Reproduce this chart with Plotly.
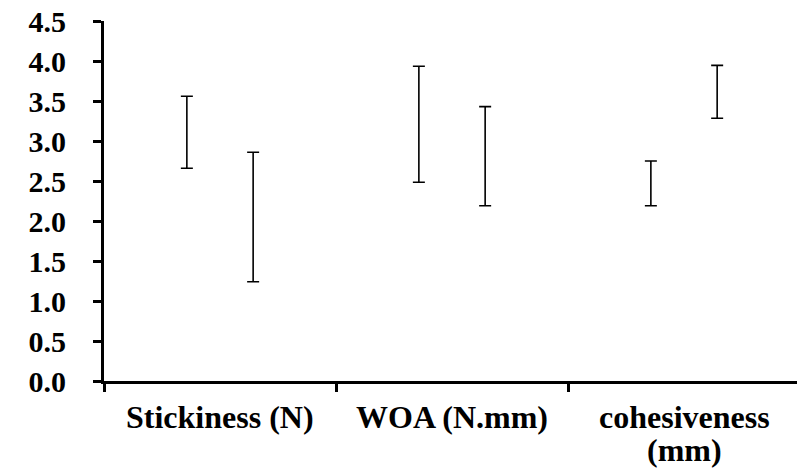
import plotly.graph_objects as go

# Texture parameters, two samples per parameter (mean ± SD)
categories = ["Stickiness (N)", "WOA (N.mm)", "cohesiveness<br>(mm)"]
sample_a_mean = [3.11, 3.21, 2.47]
sample_a_sd = [0.45, 0.725, 0.28]
sample_b_mean = [2.05, 2.81, 3.615]
sample_b_sd = [0.81, 0.62, 0.33]
y_ticks = [0.0, 0.5, 1.0, 1.5, 2.0, 2.5, 3.0, 3.5, 4.0, 4.5]

font_family = "Liberation Serif"

fig = go.Figure()
for means, sds in [(sample_a_mean, sample_a_sd), (sample_b_mean, sample_b_sd)]:
    fig.add_trace(go.Bar(
        x=categories,
        y=means,
        marker=dict(color="rgba(255,255,255,0)", line=dict(width=0)),
        error_y=dict(type="data", array=sds, visible=True,
                     color="black", thickness=1.6, width=6),
        showlegend=False,
        hoverinfo="skip",
    ))

# Category labels: one annotation per text line, tighter line spacing than tick labels
line_gap = 33
for cat in categories:
    for k, line in enumerate(cat.split("<br>")):
        fig.add_annotation(
            x=cat, y=0, xref="x", yref="y",
            text=line, showarrow=False,
            xanchor="center", yanchor="middle",
            yshift=-36 - k * line_gap,
            font=dict(family=font_family, size=32, color="black", weight="bold"),
        )

fig.update_layout(
    width=797, height=472,
    margin=dict(l=104, r=0, t=21, b=91),
    paper_bgcolor="white", plot_bgcolor="white",
    font=dict(family=font_family),
    barmode="group", bargap=0.4286, bargroupgap=0,
    showlegend=False,
)

fig.update_xaxes(
    range=[-0.5, 2.487],
    showline=True, linecolor="black", linewidth=3,
    ticks="outside", tickson="boundaries", ticklen=8, tickwidth=3, tickcolor="black",
    showgrid=False, zeroline=False, showticklabels=False,
)
fig.update_yaxes(
    range=[0, 4.5],
    tickvals=y_ticks, ticktext=[f"{v:.1f}" for v in y_ticks],
    showline=True, linecolor="black", linewidth=3,
    ticks="outside", ticklen=8, tickwidth=3, tickcolor="black",
    showgrid=False, zeroline=False,
    tickfont=dict(family=font_family, size=30, color="black", weight="bold"),
    ticklabelstandoff=21,
)

fig.write_html("out.html")
